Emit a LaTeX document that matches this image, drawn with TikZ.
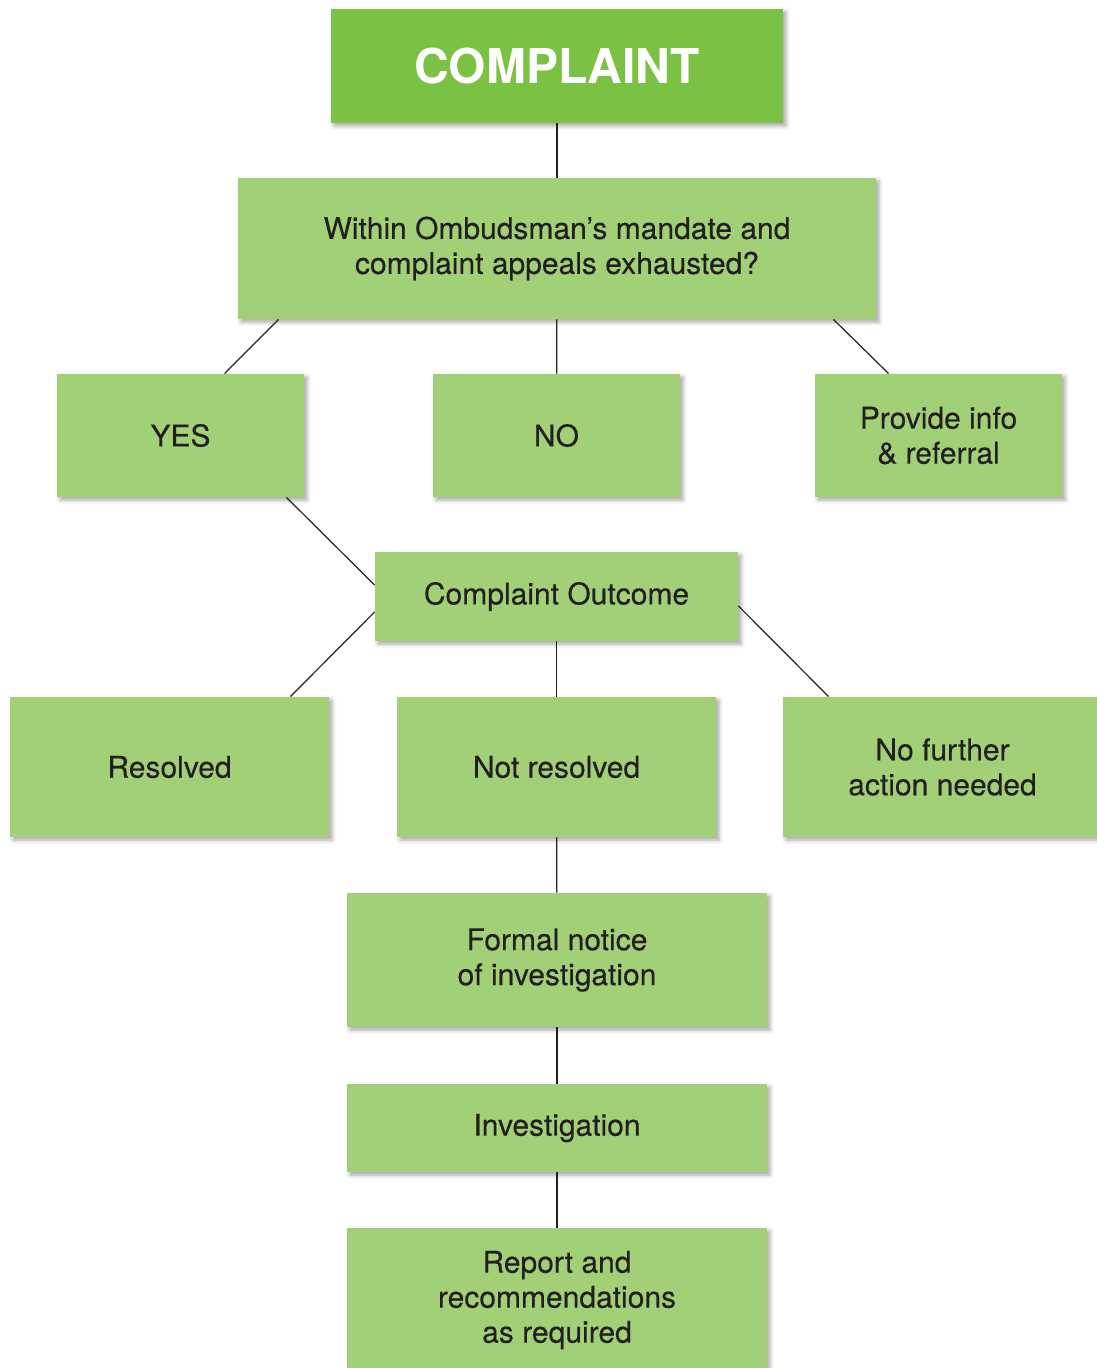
\documentclass[tikz,border=0pt]{standalone}
\usepackage{fontspec}
\setmainfont{TeX Gyre Heros}
\newfontfamily\boxfont{TeX Gyre Heros}[FakeBold=0.3]
\usepackage{tikz}
\usetikzlibrary{positioning, calc, shadows.blur}
\definecolor{topgreen}{HTML}{7BC143}
\definecolor{boxgreen}{HTML}{A2D077}
\definecolor{inkgray}{HTML}{231F20}
\tikzstyle{box} = [rectangle, fill=boxgreen, text=inkgray, align=center, inner sep=0pt, font=\boxfont\fontsize{15}{17.5}\selectfont, blur shadow={shadow xshift=1.5pt, shadow yshift=-1.5pt, shadow blur radius=2pt, shadow opacity=35}]
\tikzstyle{link} = [draw=inkgray, line width=0.6pt]

\begin{document}
\begin{tikzpicture}[x=0.5pt, y=-0.5pt]
        \useasboundingbox (0,0) rectangle (1096,1368);

        % Complaint
        \node[box, fill=topgreen, text=white, font=\fontsize{24}{28}\selectfont\bfseries, minimum width=226pt, minimum height=57pt] (complaint) at (557,66) {COMPLAINT};

        % Mandate question
        \node[box, minimum width=319pt, minimum height=70.5pt] (mandate) at (557,248.5) {Within Ombudsman’s mandate and \\ complaint appeals exhausted?};

        % Answers
        \node[box, minimum width=123.5pt, minimum height=61.5pt] (yes) at (180.5,435.5) {YES};
        \node[box, minimum width=123.5pt, minimum height=61.5pt] (no) at (556.5,435.5) {NO};
        \node[box, minimum width=123.5pt, minimum height=61.5pt] (referral) at (938.5,435.5) {Provide info \\ \& referral};

        % Outcome
        \node[box, minimum width=181.5pt, minimum height=44.5pt] (outcome) at (556.5,596.5) {Complaint Outcome};
        \node[box, minimum width=159.5pt, minimum height=70pt] (resolved) at (169.5,767) {Resolved};
        \node[box, minimum width=159.5pt, minimum height=70pt] (notresolved) at (556.5,767) {Not resolved};
        \node[box, minimum width=159.5pt, minimum height=70pt] (nofurther) at (942.5,767) {No further \\ action needed};

        % Investigation steps
        \node[box, minimum width=210pt, minimum height=67pt] (notice) at (557,960) {Formal notice \\ of investigation};
        \node[box, minimum width=210pt, minimum height=44pt] (investigation) at (557,1128) {Investigation};
        \node[box, minimum width=210pt, minimum height=72pt] (report) at (557,1300) {Report and \\ recommendations \\ as required};

        % Lines
        \draw[link] (complaint) -- (mandate);
        \draw[link] ($(mandate.south west)+(41,0)$) -- ($(yes.north)+(44,0)$);
        \draw[link] (mandate) -- (no);
        \draw[link] ($(mandate.south east)+(-43,0)$) -- ($(referral.north west)+(74,0)$);
        \draw[link] ($(yes.south east)+(-18,0)$) -- ($(outcome.west)+(0,-11.5)$);
        \draw[link] ($(outcome.west)+(0,15.5)$) -- ($(resolved.north east)+(-39,0)$);
        \draw[link] (outcome) -- (notresolved);
        \draw[link] ($(outcome.east)+(0,9.5)$) -- ($(nofurther.north west)+(46,0)$);
        \draw[link] (notresolved) -- (notice);
        \draw[link] (notice) -- (investigation);
        \draw[link] (investigation) -- (report);

    \end{tikzpicture}
\end{document}
